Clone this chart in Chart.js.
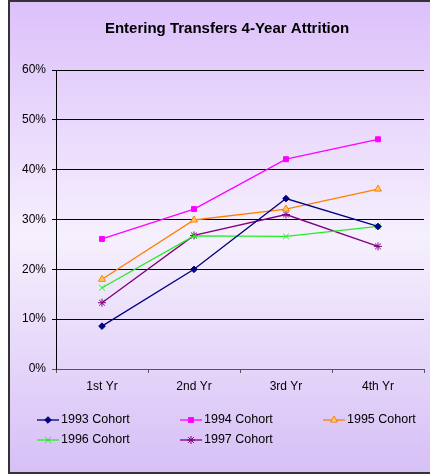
<!DOCTYPE html>
<html>
<head>
<meta charset="utf-8">
<script src="https://cdn.jsdelivr.net/npm/chart.js@4/dist/chart.umd.min.js"></script>
<style>
  html, body { margin: 0; padding: 0; background: #fff; }
  #wrap { width: 430px; height: 474px; }
</style>
</head>
<body>
<div id="wrap"><canvas id="attrition"></canvas></div>
<script>
const years = ['1st Yr', '2nd Yr', '3rd Yr', '4th Yr'];
const cohortNames = ['1993 Cohort', '1994 Cohort', '1995 Cohort', '1996 Cohort', '1997 Cohort'];
const cohort1993 = [8.6, 20.0, 34.2, 28.6];
const cohort1994 = [26.1, 32.1, 42.1, 46.1];
const cohort1995 = [18.0, 29.9, 32.1, 36.1];
const cohort1996 = [16.3, 26.7, 26.6, 28.6];
const cohort1997 = [13.3, 26.8, 31.0, 24.6];
const yTicks = [0, 10, 20, 30, 40, 50, 60];

const FONT = "'Liberation Sans', Arial, sans-serif";

// frame + purple gradient like the Excel chart area
const backdrop = {
  id: 'backdrop',
  beforeDraw(chart) {
    const { ctx, width, height } = chart;
    ctx.save();
    ctx.fillStyle = '#ffffff';
    ctx.fillRect(0, 0, width, height);
    const g = ctx.createLinearGradient(0, 0, 0, height);
    g.addColorStop(0, '#dcc0fb');
    g.addColorStop(0.5, '#f6f0fd');
    g.addColorStop(1, '#d6bff6');
    ctx.fillStyle = g;
    ctx.fillRect(8, 0, width - 8, height);
    ctx.fillStyle = '#333333';
    ctx.fillRect(8, 0, width - 8, 2);
    ctx.fillRect(8, 0, 2, height);
    ctx.fillRect(8, height - 2, width - 8, 2);
    ctx.restore();
  }
};

// the original title sits a bit right of the canvas centre
const titleShift = {
  id: 'titleShift',
  afterLayout(chart) {
    if (chart.titleBlock) chart.titleBlock.left += 21;
  }
};

// Excel style legend: line with marker, three columns
const cohortLegend = {
  id: 'cohortLegend',
  afterDraw(chart) {
    const { ctx } = chart;
    const cols = [37, 180, 323];
    const rows = [420, 440];
    ctx.save();
    chart.data.datasets.forEach((ds, i) => {
      const x = cols[i % 3];
      const y = rows[Math.floor(i / 3)];
      ctx.strokeStyle = ds.borderColor;
      ctx.lineWidth = ds.borderWidth;
      ctx.beginPath();
      ctx.moveTo(x, y);
      ctx.lineTo(x + 22, y);
      ctx.stroke();
      ctx.fillStyle = ds.pointBackgroundColor;
      ctx.strokeStyle = ds.pointBorderColor;
      ctx.lineWidth = ds.pointBorderWidth || 1;
      Chart.helpers.drawPoint(ctx, {
        pointStyle: ds.pointStyle,
        radius: ds.pointRadius,
        borderWidth: ctx.lineWidth,
        rotation: 0
      }, x + 11, y);
      ctx.fillStyle = '#000000';
      ctx.font = '12.5px ' + FONT;
      ctx.textBaseline = 'middle';
      ctx.textAlign = 'left';
      ctx.fillText(ds.label, x + 24, y);
    });
    ctx.restore();
  }
};

const mk = (label, data, color, style, radius, fill) => ({
  label,
  data,
  borderColor: color,
  borderWidth: 1.3,
  pointStyle: style,
  pointRadius: radius,
  pointBackgroundColor: fill || color,
  pointBorderColor: color,
  pointBorderWidth: 1,
  tension: 0
});

new Chart(document.getElementById('attrition'), {
  type: 'line',
  data: {
    labels: years,
    datasets: [
      mk(cohortNames[0], cohort1993, '#000080', 'rectRot', 3.3),
      mk(cohortNames[1], cohort1994, '#ff00ff', 'rect', 3.5),
      mk(cohortNames[2], cohort1995, '#ff8000', 'triangle', 4, '#ffcc66'),
      mk(cohortNames[3], cohort1996, '#22ee22', 'crossRot', 4),
      mk(cohortNames[4], cohort1997, '#800080', 'star', 4)
    ]
  },
  options: {
    responsive: true,
    maintainAspectRatio: false,
    animation: false,
    layout: { padding: { left: 9, right: 6, top: 0, bottom: 0 } },
    scales: {
      x: {
        offset: true,
        afterFit(scale) { scale.height = 105; },
        ticks: {
          color: '#000000',
          font: { family: FONT, size: 12 },
          padding: 6,
          maxRotation: 0
        },
        grid: {
          offset: true,
          drawOnChartArea: false,
          drawTicks: true,
          tickLength: 4,
          color: '#555555'
        },
        border: { color: '#555555', width: 1 }
      },
      y: {
        min: 0,
        max: 60,
        afterFit(scale) { scale.width = 47; },
        afterBuildTicks(scale) { scale.ticks = yTicks.map(v => ({ value: v })); },
        ticks: {
          color: '#000000',
          font: { family: FONT, size: 12 },
          padding: 6,
          callback: v => v + '%'
        },
        grid: {
          color: ctx => ctx.tick && ctx.tick.value === 0 ? '#555555' : '#000000',
          lineWidth: 1,
          tickLength: 4
        },
        border: { color: '#000000', width: 1 }
      }
    },
    plugins: {
      legend: { display: false },
      tooltip: { enabled: false },
      title: {
        display: true,
        text: 'Entering Transfers 4-Year Attrition',
        color: '#000000',
        font: { family: FONT, size: 15, weight: 'bold' },
        padding: { top: 20, bottom: 32 }
      }
    }
  },
  plugins: [backdrop, titleShift, cohortLegend]
});
</script>
</body>
</html>
